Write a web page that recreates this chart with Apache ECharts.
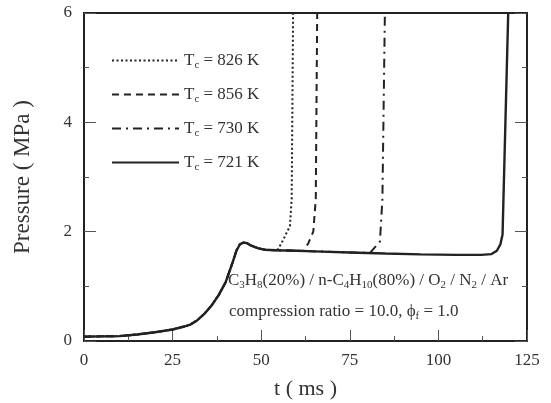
<!DOCTYPE html>
<html>
<head>
<meta charset="utf-8">
<script src="https://cdn.jsdelivr.net/npm/echarts@6/dist/echarts.min.js"></script>
<style>
    html, body { margin: 0; padding: 0; background: #fff; }
    #chart { width: 551px; height: 403px; }
</style>
</head>
<body>
<div id="chart"></div>
<script>
    // shared compression stroke, t (ms) vs pressure (MPa)
    var compression = [[0, 0.08], [5, 0.085], [10, 0.09], [15, 0.12], [20, 0.16], [25, 0.21], [28, 0.26],
        [30, 0.30], [32, 0.38], [34, 0.50], [36, 0.65], [38, 0.84], [40, 1.08], [42, 1.45], [43, 1.65],
        [44, 1.77], [45, 1.80], [46, 1.79], [47, 1.75], [49, 1.70], [51, 1.67], [54, 1.66]];
    // after compression, up to ignition
    var tail826 = [[54.8, 1.68], [56.2, 1.85], [58.1, 2.1], [58.6, 2.6], [59.0, 6]];
    var tail856 = [[58, 1.655], [62, 1.645], [63.3, 1.79], [64.7, 2.0], [65.4, 2.6], [65.8, 6]];
    var tail730 = [[60, 1.65], [70, 1.63], [80.7, 1.61], [83.5, 1.82], [84.2, 2.6], [84.9, 6]];
    var tail721 = [[60, 1.65], [65, 1.64], [75, 1.62], [85, 1.60], [95, 1.585], [105, 1.575], [112, 1.575],
        [115, 1.59], [116.5, 1.65], [117.5, 1.77], [118.1, 1.95], [119.7, 6]];
    var legendNames = ['826 K', '856 K', '730 K', '721 K'];
    var xTicks = [0, 25, 50, 75, 100, 125];
    var yTicks = [0, 2, 4, 6];

    var font = 'Liberation Serif';
    var ink = '#222';

    var chart = echarts.init(document.getElementById('chart'));

    function line(name, tail, type, width) {
        return {
            name: name,
            type: 'line',
            symbol: 'none',
            data: compression.concat(tail),
            lineStyle: {color: ink, width: width, type: type},
            itemStyle: {color: ink},
            z: 2
        };
    }

    var yAxisBase = {
        type: 'value',
        min: yTicks[0],
        max: yTicks[yTicks.length - 1],
        interval: 2,
        splitLine: {show: false},
        axisLine: {show: true, lineStyle: {color: ink, width: 2}},
        axisTick: {show: true, inside: true, length: 12, lineStyle: {color: '#555', width: 1}},
        minorTick: {show: true, splitNumber: 2, length: 5, lineStyle: {color: '#555', width: 1}}
    };

    var subRich = {
        n: {fontFamily: font, fontSize: 17, lineHeight: 21, fill: '#333', color: '#333'},
        s: {fontFamily: font, fontSize: 11, lineHeight: 11, verticalAlign: 'bottom', fill: '#333', color: '#333'}
    };

    chart.setOption({
        animation: false,
        grid: {
            left: 84, right: 24, top: 13, bottom: 62,
            outerBoundsMode: 'none', containLabel: false,
            show: true, borderColor: ink, borderWidth: 2
        },
        legend: {
            orient: 'vertical',
            left: 106,
            top: 47,
            itemWidth: 67,
            itemHeight: 14,
            itemGap: 15,
            itemStyle: {opacity: 0},
            data: legendNames,
            formatter: function (name) {
                return '{n|T}{s|c}{n| = ' + name + '}';
            },
            textStyle: {color: '#333', rich: subRich}
        },
        xAxis: {
            type: 'value',
            min: xTicks[0],
            max: xTicks[xTicks.length - 1],
            interval: 25,
            name: 't ( ms )',
            nameLocation: 'middle',
            nameGap: 37,
            nameTextStyle: {fontFamily: font, fontSize: 22, color: '#333'},
            splitLine: {show: false},
            axisLine: {show: true, lineStyle: {color: ink, width: 2}},
            axisTick: {show: true, inside: true, length: 11, lineStyle: {color: '#555', width: 1}},
            minorTick: {show: true, splitNumber: 2, length: 5, lineStyle: {color: '#555', width: 1}},
            axisLabel: {fontFamily: font, fontSize: 17, color: '#333', margin: 11}
        },
        yAxis: [
            Object.assign({}, yAxisBase, {
                position: 'left',
                name: 'Pressure ( MPa )',
                nameLocation: 'middle',
                nameGap: 50,
                nameTextStyle: {fontFamily: font, fontSize: 23, color: '#333'},
                axisLabel: {fontFamily: font, fontSize: 17, color: '#333', margin: 12}
            }),
            Object.assign({}, yAxisBase, {
                position: 'right',
                axisLabel: {show: false}
            })
        ],
        series: [
            line('721 K', tail721, 'solid', 2.4),
            line('826 K', tail826, [2, 2.5], 2),
            line('856 K', tail856, [7, 5], 2),
            line('730 K', tail730, [9, 5, 2, 5], 2)
        ],
        graphic: [
            {
                type: 'text',
                left: 228,
                top: 272,
                style: {
                    text: '{n|C}{s|3}{n|H}{s|8}{n|(20%) / n-C}{s|4}{n|H}{s|10}{n|(80%) / O}{s|2}{n| / N}{s|2}{n| / Ar}',
                    rich: subRich
                }
            },
            {
                type: 'text',
                left: 229,
                top: 303,
                style: {
                    text: '{n|compression ratio = 10.0, ϕ}{s|f}{n| = 1.0}',
                    rich: subRich
                }
            }
        ]
    });
</script>
</body>
</html>
